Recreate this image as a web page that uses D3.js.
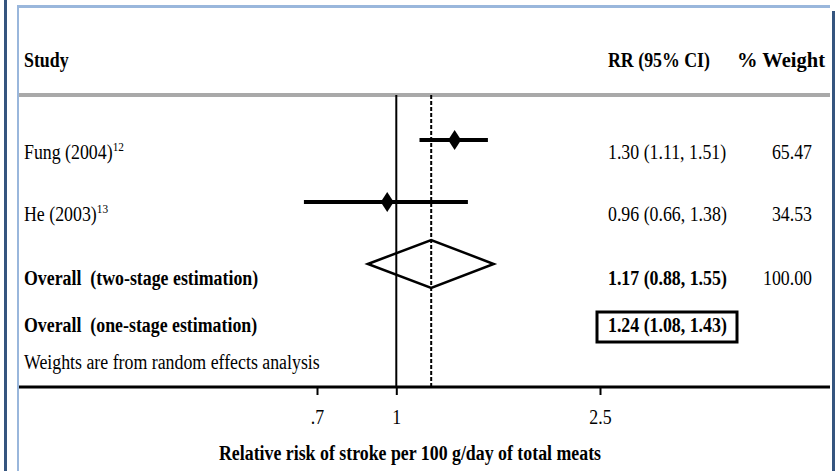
<!DOCTYPE html>
<html>
<head>
<meta charset="utf-8">
<script src="https://d3js.org/d3.v7.min.js"></script>
<style>
body { margin: 0; background: #fff; }
svg text { font-family: "Liberation Serif", "Times New Roman", serif; fill: #000; }
</style>
</head>
<body>
<script>
// size of the svg
var w = 839;
var h = 471;

// individual studies
var studies = ["Fung (2004)", "He (2003)"];
var refs = ["12", "13"];
var rr = [1.30, 0.96];
var lower = [1.11, 0.66];
var upper = [1.51, 1.38];
var weights = ["65.47", "34.53"];

// pooled estimates
var overallLabels = ["Overall  (two-stage estimation)", "Overall  (one-stage estimation)"];
var overallRR = [1.17, 1.24];
var overallLower = [0.88, 1.08];
var overallUpper = [1.55, 1.43];
var overallWeight = ["100.00", ""];

// axis ticks
var tickValues = [0.7, 1, 2.5];
var tickLabels = [".7", "1", "2.5"];

// layout of the panel
var left = 19, right = 830;
var headTop = 95, axisY = 387;
var fs = 20.5;   // font size
var sx = 0.87;   // the text of the original is squeezed sideways

// formats "1.30 (1.11, 1.51)"
function ciText(m, lo, hi) {
  return m.toFixed(2) + " (" + lo.toFixed(2) + ", " + hi.toFixed(2) + ")";
}

// adds a squeezed text at x, y
function label(parent, x, y, str, bold, anchor, scale) {
  return parent.append("text")
               .attr("transform", "translate(" + x + "," + y + ") scale(" + (scale || sx) + ",1)")
               .attr("text-anchor", anchor || "start")
               .attr("font-weight", bold ? "bold" : "normal")
               .style("font-size", fs + "px")
               .text(str);
}

var svg = d3.select("body")
            .append("svg")
            .attr("width", w)
            .attr("height", h);

// frame around the figure
svg.append("rect").attr("x", 4).attr("y", 0).attr("width", 3).attr("height", h).attr("fill", "#35557f");
svg.append("rect").attr("x", 832).attr("y", 11).attr("width", 3).attr("height", h - 11).attr("fill", "#35557f");
svg.append("rect").attr("x", 17).attr("y", 5).attr("width", right - 17).attr("height", 3).attr("fill", "#9ab7dc");
svg.append("rect").attr("x", 17).attr("y", 5).attr("width", 2).attr("height", h - 5).attr("fill", "#9ab7dc");

// header separator
svg.append("rect").attr("x", left).attr("y", headTop - 2).attr("width", right - left).attr("height", 4).attr("fill", "#a9a9a9");

// log scale for relative risk
var x = d3.scaleLog()
          .domain([0.7, 2.5])
          .range([317, 600]);

// row position of the marks
var y = d3.scaleLinear()
          .domain([0, 1])
          .range([140, 202]);

// headers
label(svg, 24, 67, "Study", true);
label(svg, 608, 67, "RR (95% CI)", true);
label(svg, 825, 67, "% Weight", true, "end", 1.0);

// reference lines: null effect and pooled estimate
svg.append("line")
   .attr("x1", x(1)).attr("x2", x(1))
   .attr("y1", headTop).attr("y2", axisY)
   .attr("stroke", "#000").attr("stroke-width", 2);

svg.append("line")
   .attr("x1", x(overallRR[0])).attr("x2", x(overallRR[0]))
   .attr("y1", headTop).attr("y2", axisY)
   .attr("stroke", "#000").attr("stroke-width", 2)
   .attr("stroke-dasharray", "4,2");

// study rows
var rows = svg.selectAll(".study")
              .data(studies)
              .enter().append("g")
              .attr("class", "study");

rows.append("line")
    .attr("x1", (d, i) => x(lower[i]))
    .attr("x2", (d, i) => x(upper[i]))
    .attr("y1", (d, i) => y(i))
    .attr("y2", (d, i) => y(i))
    .attr("stroke", "#000")
    .attr("stroke-width", 4);

rows.append("path")
    .attr("d", (d, i) => {
      var cx = x(rr[i]), cy = y(i);
      return "M" + (cx - 6.5) + "," + cy + "L" + cx + "," + (cy - 10) + "L" + (cx + 6.5) + "," + cy + "L" + cx + "," + (cy + 10) + "Z";
    })
    .attr("fill", "#000");

rows.each(function(d, i) {
  var g = d3.select(this);
  var name = label(g, 24, y(i) + 19, "");
  name.append("tspan").text(d);
  name.append("tspan")
      .attr("dy", -8)
      .style("font-size", "13px")
      .text(refs[i]);
  label(g, 608, y(i) + 19, ciText(rr[i], lower[i], upper[i]));
  label(g, 812, y(i) + 19, weights[i], false, "end");
});

// pooled diamond (two-stage)
var dy0 = y(2);
svg.append("path")
   .attr("d", "M" + x(overallLower[0]) + "," + dy0 +
              "L" + x(overallRR[0]) + "," + (dy0 - 24) +
              "L" + x(overallUpper[0]) + "," + dy0 +
              "L" + x(overallRR[0]) + "," + (dy0 + 24) + "Z")
   .attr("fill", "none")
   .attr("stroke", "#000")
   .attr("stroke-width", 2.5);

// pooled rows text
var overallBase = [y(2) + 21, 332];
overallLabels.forEach(function(str, i) {
  label(svg, 24, overallBase[i], str, true).style("white-space", "pre");
  label(svg, 608, overallBase[i], ciText(overallRR[i], overallLower[i], overallUpper[i]), true);
  label(svg, 812, overallBase[i], overallWeight[i], false, "end");
});

// box round the one-stage estimate
svg.append("rect")
   .attr("x", 597).attr("y", 312)
   .attr("width", 140).attr("height", 30)
   .attr("fill", "none")
   .attr("stroke", "#000")
   .attr("stroke-width", 3);

label(svg, 24, 369, "Weights are from random effects analysis");

// x axis
svg.append("line")
   .attr("x1", left).attr("x2", right)
   .attr("y1", axisY).attr("y2", axisY)
   .attr("stroke", "#000").attr("stroke-width", 3);

var axis = svg.append("g")
              .attr("transform", "translate(0," + axisY + ")")
              .call(d3.axisBottom(x)
                      .tickValues(tickValues)
                      .tickFormat((d, i) => tickLabels[i])
                      .tickSize(8)
                      .tickPadding(14));
axis.select(".domain").remove();
axis.selectAll(".tick line").attr("stroke-width", 2);
axis.selectAll(".tick text")
    .attr("transform", "scale(" + sx + ",1)")
    .style("font-size", fs + "px")
    .style("font-family", "'Liberation Serif', serif")
    .attr("fill", "#000");

label(svg, 410, 460, "Relative risk of stroke per 100 g/day of total meats", true, "middle");
</script>
</body>
</html>
